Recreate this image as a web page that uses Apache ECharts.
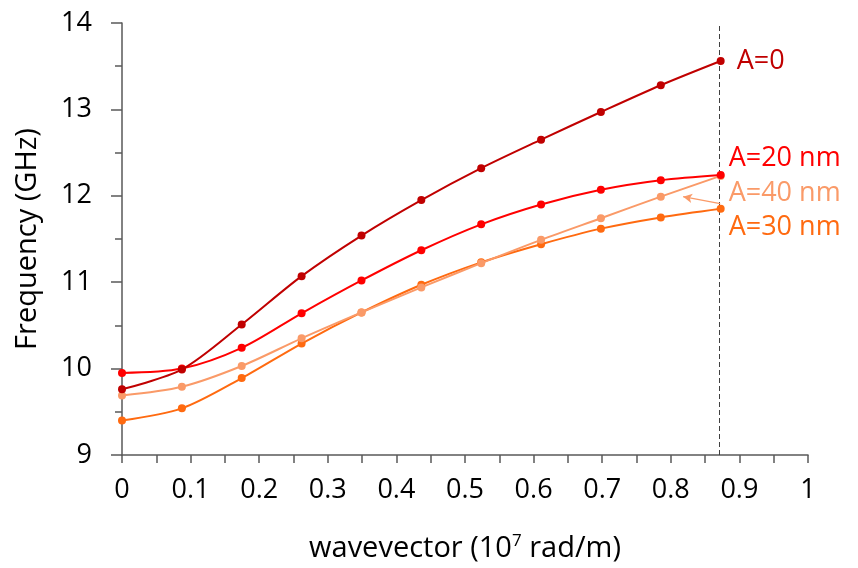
<!DOCTYPE html>
<html>
<head>
<meta charset="utf-8">
<script src="https://cdn.jsdelivr.net/npm/echarts@6/dist/echarts.min.js"></script>
<style>html,body{margin:0;padding:0;background:#fff}#c{width:858px;height:568px}</style>
</head>
<body>
<div id="c"></div>
<script>
const wavevector = [0, 0.0873, 0.1745, 0.2618, 0.3491, 0.4363, 0.5236, 0.6109, 0.6981, 0.7854, 0.8727];
const freqA0  = [9.76, 9.99, 10.51, 11.07, 11.54, 11.95, 12.32, 12.65, 12.97, 13.28, 13.56];
const freqA20 = [9.95, 10.00, 10.24, 10.64, 11.02, 11.37, 11.67, 11.90, 12.07, 12.18, 12.24];
const freqA40 = [9.69, 9.79, 10.03, 10.35, 10.65, 10.94, 11.22, 11.49, 11.74, 11.99, 12.23];
const freqA30 = [9.40, 9.54, 9.89, 10.29, 10.65, 10.97, 11.23, 11.44, 11.62, 11.75, 11.85];
const seriesNames = ['A=0', 'A=20 nm', 'A=40 nm', 'A=30 nm'];
const cutoffK = 0.8727;
const xTicks = {min: 0, max: 1, interval: 0.1};
const yTicks = {min: 9, max: 14, interval: 1};

const FONT = '"Open Sans", "Liberation Sans", sans-serif';
const colors = ['#C00000', '#FF0000', '#FA9A68', '#FF6A10'];
const labelOffsets = [[16, 0], [8, -17], [8, 17], [8, 19]];
const allData = [freqA0, freqA20, freqA40, freqA30];

const chart = echarts.init(document.getElementById('c'), null, {renderer: 'canvas'});

const series = allData.map((arr, i) => ({
  name: seriesNames[i],
  type: 'line',
  data: wavevector.map((k, j) => [k, arr[j]]),
  smooth: 0.3,
  symbol: 'circle',
  symbolSize: 8,
  z: 10 - i,
  lineStyle: {color: colors[i], width: 2},
  itemStyle: {color: colors[i]},
  endLabel: {
    show: true,
    formatter: seriesNames[i],
    color: colors[i],
    fontFamily: FONT,
    fontSize: 27,
    offset: labelOffsets[i],
    distance: 0
  }
}));

series[0].markLine = {
  silent: true,
  symbol: ['none', 'none'],
  label: {show: false},
  lineStyle: {color: '#404040', type: [5, 3], width: 1},
  data: [{xAxis: cutoffK}]
};
series[2].markLine = {
  silent: true,
  symbol: ['none', 'arrow'],
  symbolSize: [7, 9],
  label: {show: false},
  lineStyle: {color: colors[2], type: 'solid', width: 1.3, curveness: 0.15},
  data: [[{coord: [0.872, 11.91]}, {coord: [0.818, 11.99]}]]
};

chart.setOption({
  animation: false,
  backgroundColor: '#fff',
  grid: {left: 122, right: 50, top: 23, bottom: 111, containLabel: false},
  xAxis: {
    type: 'value',
    min: xTicks.min, max: xTicks.max, interval: xTicks.interval,
    name: '{a|wavevector (10}{s|7}{a| rad/m)}',
    nameLocation: 'middle',
    nameGap: 78,
    nameTextStyle: {
      rich: {
        a: {fontFamily: FONT, fontSize: 29, color: '#000'},
        s: {fontFamily: FONT, fontSize: 17, color: '#000', verticalAlign: 'top', padding: [0, 0, 14, 0]}
      }
    },
    axisLine: {lineStyle: {color: '#595959', width: 1.5}},
    axisTick: {show: true, inside: false, length: 8, lineStyle: {color: '#595959', width: 1.5}},
    minorTick: {show: true, splitNumber: 2, length: 8, lineStyle: {color: '#595959', width: 1.5}},
    splitLine: {show: false},
    axisLabel: {fontFamily: FONT, fontSize: 27, color: '#000', margin: 22}
  },
  yAxis: {
    type: 'value',
    min: yTicks.min, max: yTicks.max, interval: yTicks.interval,
    name: 'Frequency (GHz)',
    nameLocation: 'middle',
    nameGap: 80,
    nameTextStyle: {fontFamily: FONT, fontSize: 29, color: '#000'},
    axisLine: {show: true, lineStyle: {color: '#595959', width: 1.5}},
    axisTick: {show: true, inside: false, length: 11, lineStyle: {color: '#595959', width: 1.5}},
    minorTick: {show: true, splitNumber: 2, length: 7, lineStyle: {color: '#595959', width: 1.5}},
    splitLine: {show: false},
    axisLabel: {fontFamily: FONT, fontSize: 27, color: '#000', margin: 30}
  },
  series: series
});
</script>
</body>
</html>
